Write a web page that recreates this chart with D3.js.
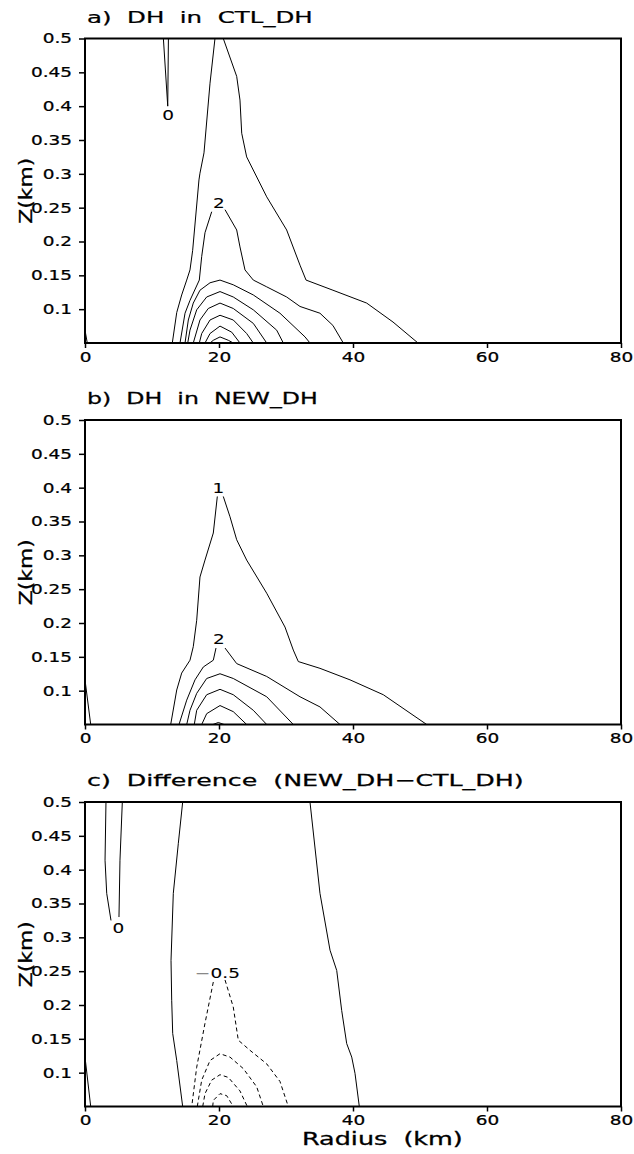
<!DOCTYPE html>
<html>
<head>
<meta charset="utf-8">
<script src="https://cdn.jsdelivr.net/npm/d3@7"></script>
<style>
  html, body { margin: 0; padding: 0; background: #fff; }
  svg { display: block; }
  text { font-family: "DejaVu Sans", sans-serif; fill: #000; white-space: pre; }
</style>
</head>
<body>
<svg id="chart" width="634" height="1154"></svg>
<script>
// ---------------- DATA ----------------
const radiusTicks = [0, 20, 40, 60, 80];
const radiusTickLabels = ["0", "20", "40", "60", "80"];
const heightTicks = [0.1, 0.15, 0.2, 0.25, 0.3, 0.35, 0.4, 0.45, 0.5];
const heightTickLabels = ["0.1", "0.15", "0.2", "0.25", "0.3", "0.35", "0.4", "0.45", "0.5"];
const radiusDomain = [0, 80];
const heightDomain = [0.05, 0.5];

const panelTitles = ["a)  DH  in  CTL_DH", "b)  DH  in  NEW_DH", "c)  Difference  (NEW_DH\u2212CTL_DH)"];
const xAxisTitle = "Radius  (km)";
const yAxisTitle = "Z(km)";

// Panel a: DH in CTL_DH  — contour polylines as [radius km, height km]
const ctlContours = [
  { level: 0, segments: [[[11.7, 0.5], [12.35, 0.40], [12.45, 0.5]]] },
  { level: 0, segments: [[[0.0, 0.069], [0.34, 0.05]]] },
  { level: 1, segments: [[[19.40, 0.5], [18.66, 0.434], [17.76, 0.331], [17.16, 0.301], [17.01, 0.291], [16.07, 0.187], [15.67, 0.158], [15.18, 0.143], [14.43, 0.121], [13.69, 0.095], [13.03, 0.05]],
                         [[20.64, 0.5], [22.64, 0.444], [23.13, 0.409], [23.39, 0.360], [24.13, 0.325], [27.12, 0.266], [30.10, 0.217], [32.09, 0.165], [32.99, 0.143], [37.01, 0.128], [42.04, 0.109], [45.97, 0.081], [49.70, 0.05]]] },
  { level: 2, segments: [[[18.91, 0.244], [17.91, 0.213], [17.42, 0.178], [17.06, 0.143], [15.67, 0.113], [14.93, 0.094], [14.18, 0.05]],
                         [[20.90, 0.247], [22.64, 0.217], [23.13, 0.192], [23.88, 0.158], [25.12, 0.143], [27.12, 0.133], [30.10, 0.118], [32.09, 0.104], [35.07, 0.094], [37.0, 0.076], [38.55, 0.05]]] },
  { level: 3, segments: [[[14.93, 0.05], [15.42, 0.084], [16.16, 0.109], [17.16, 0.128], [18.66, 0.139], [20.15, 0.143], [22.13, 0.136], [25.12, 0.121], [29.10, 0.094], [32.84, 0.059], [33.58, 0.05]]] },
  { level: 4, segments: [[[15.33, 0.05], [15.67, 0.069], [16.67, 0.099], [18.16, 0.118], [20.15, 0.126], [22.13, 0.118], [25.12, 0.099], [28.61, 0.069], [29.60, 0.05]]] },
  { level: 5, segments: [[[16.16, 0.05], [17.16, 0.084], [18.40, 0.101], [20.15, 0.109], [22.13, 0.101], [25.12, 0.079], [27.12, 0.05]]] },
  { level: 6, segments: [[[17.06, 0.05], [17.42, 0.064], [18.66, 0.084], [20.15, 0.091], [22.13, 0.084], [24.13, 0.064], [25.12, 0.05]]] },
  { level: 7, segments: [[[17.91, 0.05], [18.66, 0.064], [20.15, 0.075], [21.90, 0.066], [23.13, 0.05]]] },
  { level: 8, segments: [[[18.66, 0.05], [19.15, 0.054], [20.15, 0.059], [21.39, 0.054], [22.13, 0.05]]] }
];
const ctlLabels = [
  { text: "0", r: 12.4, z: 0.387 },
  { text: "2", r: 20.0, z: 0.257 }
];

// Panel b: DH in NEW_DH
const newContours = [
  { level: 0, segments: [[[0.0, 0.116], [0.85, 0.05]]] },
  { level: 1, segments: [[[19.75, 0.387], [19.15, 0.333], [17.91, 0.293], [17.16, 0.268], [16.67, 0.204], [16.16, 0.165], [15.67, 0.145], [14.43, 0.126], [13.69, 0.101], [12.79, 0.05]],
                         [[20.64, 0.387], [21.64, 0.357], [22.64, 0.323], [24.13, 0.293], [27.12, 0.244], [29.85, 0.194], [31.09, 0.160], [31.84, 0.143], [35.07, 0.133], [39.55, 0.116], [44.52, 0.094], [51.0, 0.05]]] },
  { level: 2, segments: [[[19.55, 0.163], [19.15, 0.145], [17.66, 0.135], [16.42, 0.116], [15.18, 0.086], [14.03, 0.05]],
                         [[20.90, 0.163], [22.64, 0.140], [27.12, 0.121], [32.09, 0.091], [35.07, 0.076], [38.06, 0.05]]] },
  { level: 3, segments: [[[15.18, 0.05], [15.67, 0.071], [16.67, 0.096], [18.16, 0.118], [20.15, 0.125], [22.13, 0.118], [27.12, 0.091], [31.09, 0.05]]] },
  { level: 4, segments: [[[16.31, 0.05], [16.67, 0.071], [18.16, 0.094], [20.15, 0.102], [22.13, 0.094], [25.12, 0.071], [27.12, 0.05]]] },
  { level: 5, segments: [[[17.42, 0.05], [18.16, 0.066], [20.15, 0.078], [22.13, 0.069], [24.13, 0.05]]] },
  { level: 6, segments: [[[19.1, 0.05], [19.9, 0.053], [20.75, 0.05]]] }
];
const newLabels = [
  { text: "1", r: 19.9, z: 0.399 },
  { text: "2", r: 20.0, z: 0.176 }
];

// Panel c: Difference (NEW_DH - CTL_DH)
const diffContours = [
  { level: 0, segments: [[[3.13, 0.5], [2.99, 0.414], [3.24, 0.365], [3.88, 0.325]],
                         [[5.57, 0.5], [5.22, 0.414], [5.07, 0.330]]] },
  { level: 0, segments: [[[14.58, 0.5], [13.93, 0.439], [13.18, 0.365], [12.84, 0.266], [12.94, 0.207], [13.09, 0.158], [13.69, 0.118], [14.58, 0.05]]] },
  { level: 0, segments: [[[33.58, 0.5], [35.07, 0.365], [36.57, 0.281], [37.57, 0.251], [38.31, 0.192], [39.06, 0.143], [39.81, 0.123], [40.30, 0.099], [40.94, 0.05]]] },
  { level: 0, segments: [[[0.0, 0.123], [0.85, 0.05]]] },
  { level: -0.5, segments: [[[19.15, 0.234], [17.91, 0.173], [16.67, 0.108], [15.93, 0.05]],
                            [[20.90, 0.237], [22.13, 0.197], [22.88, 0.148], [24.63, 0.133], [27.12, 0.113], [29.10, 0.087], [30.34, 0.05]]] },
  { level: -1, segments: [[[16.76, 0.05], [17.42, 0.089], [18.66, 0.118], [20.15, 0.128], [21.64, 0.123], [23.63, 0.106], [25.63, 0.079], [26.61, 0.05]]] },
  { level: -1.5, segments: [[[17.57, 0.05], [17.91, 0.069], [18.91, 0.089], [20.15, 0.097], [21.39, 0.093], [23.13, 0.073], [24.22, 0.05]]] },
  { level: -2, segments: [[[19.06, 0.05], [19.15, 0.059], [20.15, 0.069], [21.15, 0.066], [22.13, 0.05]]] }
];
const diffLabels = [
  { text: "0", r: 4.97, z: 0.313 },
  { text: "-0.5", r: 19.78, z: 0.247 }
];

// ---------------- LAYOUT ----------------
const svg = d3.select("#chart");
const plotLeft = 85, plotRight = 621, plotHeight = 304.5;
const panelTops = [38.5, 420, 802];
const titleWidths = [226, 231, 437];
const panels = [
  { contours: ctlContours, labels: ctlLabels },
  { contours: newContours, labels: newLabels },
  { contours: diffContours, labels: diffLabels }
];

// horizontally widen a text element around its anchor x (GrADS glyphs are wide)
function widen(sel, s) {
  sel.each(function () {
    const t = d3.select(this);
    const ax = +t.attr("x") || 0;
    const prev = t.attr("transform") || "";
    t.attr("transform", `${prev} translate(${ax * (1 - s)},0) scale(${s},1)`);
  });
}
function widenTo(sel, target) {
  const w = sel.node().getComputedTextLength();
  widen(sel, target / w);
}

const x = d3.scaleLinear().domain(radiusDomain).range([plotLeft, plotRight]);
const tickScale = 1.32;

panels.forEach((p, i) => {
  const top = panelTops[i];
  const y = d3.scaleLinear().domain(heightDomain).range([top + plotHeight, top]);
  const g = svg.append("g");

  // title
  const tt = g.append("text")
    .attr("x", 87).attr("y", top - 15.5)
    .attr("font-size", 16)
    .attr("xml:space", "preserve")
    .style("stroke", "#000").style("stroke-width", 0.25)
    .text(panelTitles[i]);
  widenTo(tt, titleWidths[i]);

  // contours
  const line = d3.line().x(d => x(d[0])).y(d => y(d[1]));
  p.contours.forEach(c => {
    c.segments.forEach(seg => {
      g.append("path")
        .attr("d", line(seg))
        .attr("fill", "none")
        .attr("stroke", "#000")
        .attr("stroke-width", 1)
        .attr("stroke-dasharray", c.level < 0 ? "4,3" : null);
    });
  });

  // contour labels
  p.labels.forEach(l => {
    const t = g.append("text")
      .attr("x", x(l.r)).attr("y", y(l.z))
      .attr("text-anchor", "middle")
      .attr("dominant-baseline", "central")
      .attr("font-size", 14)
      .style("stroke", "#000").style("stroke-width", 0.1);
    if (l.text.startsWith("-")) {
      t.append("tspan").style("fill", "#888").style("stroke", "#888").text("\u2212");
      t.append("tspan").text(l.text.slice(1));
    } else {
      t.text(l.text);
    }
    widen(t, tickScale);
  });

  // axes
  const yAxis = d3.axisLeft(y).tickValues(heightTicks)
    .tickFormat((d, k) => heightTickLabels[k]).tickSize(6).tickPadding(7);
  const ya = g.append("g").attr("transform", `translate(${plotLeft},0)`).call(yAxis);
  ya.select(".domain").remove();
  ya.selectAll("line").attr("stroke-width", 1.5);
  const yt = ya.selectAll("text").attr("font-size", 14).attr("font-family", "DejaVu Sans")
    .style("stroke", "#000").style("stroke-width", 0.25);
  widen(yt, tickScale);

  const xAxis = d3.axisBottom(x).tickValues(radiusTicks)
    .tickFormat((d, k) => radiusTickLabels[k]).tickSize(5).tickPadding(4);
  const xa = g.append("g").attr("transform", `translate(0,${top + plotHeight})`).call(xAxis);
  xa.select(".domain").remove();
  xa.selectAll("line").attr("stroke-width", 1.5);
  const xt = xa.selectAll("text").attr("font-size", 14).attr("font-family", "DejaVu Sans")
    .style("stroke", "#000").style("stroke-width", 0.25);
  widen(xt, tickScale);

  // frame
  g.append("rect")
    .attr("x", plotLeft).attr("y", top)
    .attr("width", plotRight - plotLeft).attr("height", plotHeight)
    .attr("fill", "none").attr("stroke", "#000").attr("stroke-width", 2);

  // y title
  const yTitle = g.append("text")
    .attr("x", 0).attr("y", 0)
    .attr("text-anchor", "middle")
    .attr("font-size", 17)
    .style("stroke", "#000").style("stroke-width", 0.3)
    .text(yAxisTitle);
  widenTo(yTitle, 66);
  yTitle.attr("transform", `translate(32,${top + plotHeight / 2}) rotate(-90) ` + yTitle.attr("transform"));

  if (i === 2) {
    const xTitle = g.append("text")
      .attr("x", 302).attr("y", top + plotHeight + 39)
      .attr("font-size", 17)
      .attr("xml:space", "preserve")
      .style("stroke", "#000").style("stroke-width", 0.3)
      .text(xAxisTitle);
    widenTo(xTitle, 161);
  }
});
</script>
</body>
</html>
